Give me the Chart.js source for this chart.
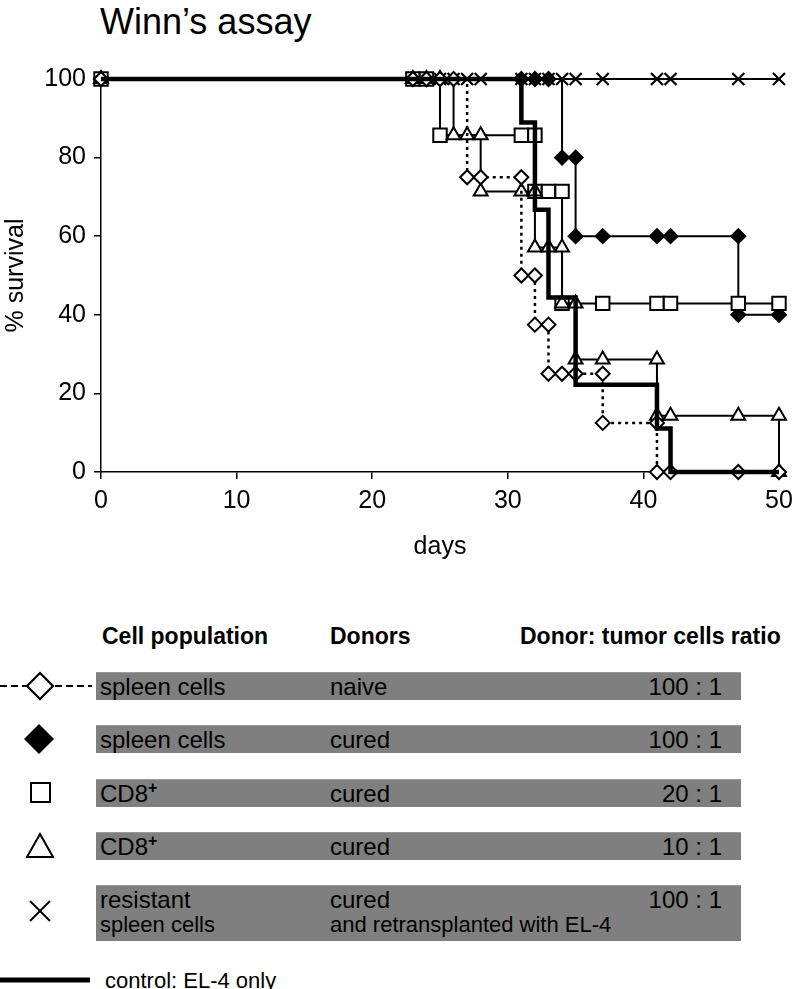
<!DOCTYPE html>
<html>
<head>
<meta charset="utf-8">
<script src="https://cdn.jsdelivr.net/npm/chart.js@4.4.0/dist/chart.umd.min.js"></script>
<style>
  body { margin: 0; background: #fff; font-family: "Liberation Sans", Arial, sans-serif; }
  #wrap { position: relative; width: 793px; height: 989px; overflow: hidden; }
  #chart { position: absolute; left: 0; top: 0; }
  .t { position: absolute; white-space: nowrap; color: #000; line-height: 1; }
  .bar { position: absolute; left: 96px; width: 645px; background: #7f7f7f; border-top: 1px solid #9a9a9a; box-sizing: border-box; }
  .hd { font-weight: bold; font-size: 23px; }
  .cell { font-size: 24px; }
  .small { font-size: 22px; }
  sup { font-size: 16px; font-weight: bold; vertical-align: 9px; line-height: 0; }
  svg { position: absolute; left: 0; overflow: visible; }
</style>
</head>
<body>
<div id="wrap">
  <div class="t" style="left:100px;top:4px;font-size:36px;">Winn’s assay</div>
  <canvas id="chart" width="793" height="590"></canvas>
  <div id="legend"></div>
</div>
<script>
// survival curves (day, % surviving)
var naiveDays = [0, 23, 24, 25, 26, 27, 28, 31, 31, 32, 32, 33, 33, 34, 35, 37, 37, 41, 41, 42, 47, 50];
var naiveSurv = [100, 100, 100, 100, 100, 75, 75, 75, 50, 50, 37.5, 37.5, 25, 25, 25, 25, 12.5, 12.5, 0, 0, 0, 0];

var curedDays = [0, 23, 24, 25, 31, 32, 33, 34, 35, 35, 37, 41, 42, 47, 47, 50];
var curedSurv = [100, 100, 100, 100, 100, 100, 100, 80, 80, 60, 60, 60, 60, 60, 40, 40];

var cd8HighDays = [0, 23, 24, 25, 31, 32, 32, 33, 34, 34, 37, 41, 42, 47, 50];
var cd8HighSurv = [100, 100, 100, 85.7, 85.7, 85.7, 71.4, 71.4, 71.4, 42.9, 42.9, 42.9, 42.9, 42.9, 42.9];

var cd8LowDays = [0, 23, 24, 25, 26, 27, 28, 28, 31, 32, 32, 33, 34, 34, 35, 35, 37, 41, 41, 42, 47, 50, 50];
var cd8LowSurv = [100, 100, 100, 100, 85.7, 85.7, 85.7, 71.4, 71.4, 71.4, 57.1, 57.1, 57.1, 42.9, 42.9, 28.6, 28.6, 28.6, 14.3, 14.3, 14.3, 14.3, 0];

var resistDays = [0, 23, 24, 25, 26, 27, 28, 31, 32, 33, 34, 35, 37, 41, 42, 47, 50];
var resistSurv = [100, 100, 100, 100, 100, 100, 100, 100, 100, 100, 100, 100, 100, 100, 100, 100, 100];

var controlDays = [0, 31, 32, 33, 35, 41, 42, 50];
var controlSurv = [100, 88.9, 66.7, 44.4, 22.2, 11.1, 0, 0];

var xTicks = [0, 10, 20, 30, 40, 50];
var yTicks = [0, 20, 40, 60, 80, 100];

// legend table
var cellPop = ['spleen cells', 'spleen cells', 'CD8<sup>+</sup>', 'CD8<sup>+</sup>', 'resistant'];
var cellPop2 = ['', '', '', '', 'spleen cells'];
var donors = ['naive', 'cured', 'cured', 'cured', 'cured'];
var donors2 = ['', '', '', '', 'and retransplanted with EL-4'];
var ratios = ['100 : 1', '100 : 1', '20 : 1', '10 : 1', '100 : 1'];

var FONT = '"Liberation Sans", Arial, sans-serif';

function pts(xs, ys) {
  return xs.map(function (x, i) { return { x: x, y: ys[i] }; });
}

function series(xs, ys, style, order, extra) {
  var d = {
    data: pts(xs, ys),
    stepped: true,
    borderColor: '#000',
    borderWidth: 2,
    pointStyle: style,
    pointRadius: 7,
    pointBorderWidth: 2,
    pointBorderColor: '#000',
    pointBackgroundColor: '#fff',
    clip: false,
    order: order
  };
  for (var k in extra) d[k] = extra[k];
  return d;
}

new Chart(document.getElementById('chart').getContext('2d'), {
  type: 'line',
  data: {
    datasets: [
      series(naiveDays, naiveSurv, 'rectRot', 1, { borderDash: [3, 4], borderWidth: 2.5 }),
      series(cd8LowDays, cd8LowSurv, 'triangle', 2, { pointRadius: 8 }),
      series(cd8HighDays, cd8HighSurv, 'rect', 3, { pointRadius: 9.5 }),
      series(curedDays, curedSurv, 'rectRot', 4, { pointBackgroundColor: '#000' }),
      series(resistDays, resistSurv, 'crossRot', 5, { pointRadius: 8.5, pointBorderWidth: 2.2 }),
      series(controlDays, controlSurv, 'circle', 0, { borderWidth: 4.5, pointRadius: 0 })
    ]
  },
  options: {
    responsive: false,
    animation: false,
    events: [],
    layout: { padding: { top: 79, right: 14, left: 0, bottom: 0 } },
    plugins: { legend: { display: false }, tooltip: { enabled: false } },
    scales: {
      x: {
        type: 'linear', min: 0, max: 50,
        afterBuildTicks: function (s) { s.ticks = xTicks.map(function (v) { return { value: v }; }); },
        afterFit: function (s) { s.height = 118; s.paddingLeft = 0; s.paddingRight = 0; },
        ticks: { color: '#000', font: { family: FONT, size: 25 }, padding: 7, maxRotation: 0 },
        grid: { drawOnChartArea: false, color: '#000', tickLength: 7, lineWidth: 1.5 },
        border: { color: '#000', width: 1.5 },
        title: { display: true, text: 'days', color: '#000', font: { family: FONT, size: 25 }, padding: { top: 0, bottom: 28 } }
      },
      y: {
        min: 0, max: 100,
        afterBuildTicks: function (s) { s.ticks = yTicks.map(function (v) { return { value: v }; }); },
        afterFit: function (s) { s.width = 101; s.paddingTop = 0; s.paddingBottom = 0; },
        ticks: { color: '#000', font: { family: FONT, size: 25 }, padding: 8 },
        grid: { drawOnChartArea: false, color: '#000', tickLength: 7, lineWidth: 1.5 },
        border: { color: '#000', width: 1.5 },
        title: { display: true, text: '% survival', color: '#000', font: { family: FONT, size: 25 }, padding: { top: 1, bottom: 0 } }
      }
    }
  }
});

// table legend under the plot
var rowTop = [672, 725, 779, 832, 885];
var rowH = [28, 28, 28, 28, 56];
var html = '';
html += '<div class="t hd" style="left:102px;top:625px">Cell population</div>';
html += '<div class="t hd" style="left:330px;top:625px">Donors</div>';
html += '<div class="t hd" style="left:520px;top:625px">Donor: tumor cells ratio</div>';
for (var i = 0; i < cellPop.length; i++) {
  var rt = rowTop[i];
  html += '<div class="bar" style="top:' + rt + 'px;height:' + rowH[i] + 'px"></div>';
  var ty = rt + 3;
  html += '<div class="t cell" style="left:100px;top:' + ty + 'px">' + cellPop[i] + '</div>';
  html += '<div class="t cell" style="left:330px;top:' + ty + 'px">' + donors[i] + '</div>';
  html += '<div class="t cell" style="right:71px;top:' + ty + 'px">' + ratios[i] + '</div>';
  if (cellPop2[i]) html += '<div class="t small" style="left:100px;top:' + (ty + 26) + 'px">' + cellPop2[i] + '</div>';
  if (donors2[i]) html += '<div class="t small" style="left:330px;top:' + (ty + 26) + 'px">' + donors2[i] + '</div>';
}
// symbols
html += '<svg width="95" height="989" style="top:0">' +
  '<line x1="0" y1="686" x2="92" y2="686" stroke="#000" stroke-width="2" stroke-dasharray="7,4"/>' +
  '<polygon points="40,673 53,686 40,699 27,686" fill="#fff" stroke="#000" stroke-width="2.2"/>' +
  '<polygon points="39,724 54,739 39,754 24,739" fill="#000"/>' +
  '<rect x="31" y="783" width="19" height="19" fill="#fff" stroke="#000" stroke-width="2"/>' +
  '<polygon points="40,834 53,857 27,857" fill="#fff" stroke="#000" stroke-width="2"/>' +
  '<line x1="30" y1="901" x2="50" y2="921" stroke="#000" stroke-width="2"/>' +
  '<line x1="50" y1="901" x2="30" y2="921" stroke="#000" stroke-width="2"/>' +
  '<line x1="0" y1="980" x2="90" y2="980" stroke="#000" stroke-width="5"/>' +
  '</svg>';
html += '<div class="t" style="left:105px;top:970px;font-size:22px">control: EL-4 only</div>';
document.getElementById('legend').innerHTML = html;
</script>
</body>
</html>
